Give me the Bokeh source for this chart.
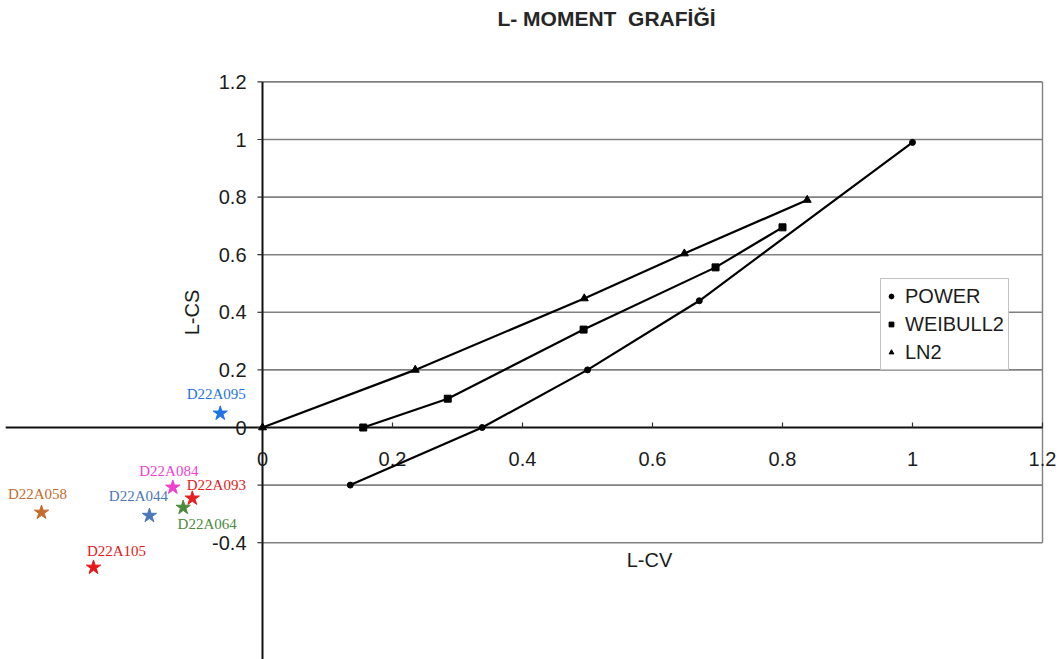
import math
from bokeh.plotting import figure
from bokeh.models import Range1d, Legend, LegendItem, Label, ColumnDataSource
from bokeh.core.properties import value
from bokeh.embed import file_html
from bokeh.resources import INLINE

# ---- data ----
x_ticks = [0, 0.2, 0.4, 0.6, 0.8, 1.0, 1.2]
x_tick_labels = ["0", "0.2", "0.4", "0.6", "0.8", "1", "1.2"]
y_ticks = [-0.4, -0.2, 0, 0.2, 0.4, 0.6, 0.8, 1.0, 1.2]
y_tick_labels = ["-0.4", "", "0", "0.2", "0.4", "0.6", "0.8", "1", "1.2"]

power_x = [0.135, 0.338, 0.5, 0.672, 1.0]
power_y = [-0.2, 0.0, 0.2, 0.44, 0.99]
weibull_x = [0.155, 0.285, 0.494, 0.697, 0.8]
weibull_y = [0.0, 0.1, 0.34, 0.556, 0.695]
ln2_x = [0.0, 0.235, 0.495, 0.649, 0.838]
ln2_y = [0.0, 0.2, 0.448, 0.604, 0.79]

stations = ["D22A095", "D22A084", "D22A093", "D22A064", "D22A044", "D22A058", "D22A105"]
station_lcv = [-0.065, -0.138, -0.108, -0.122, -0.174, -0.34, -0.26]
station_lcs = [0.049, -0.208, -0.246, -0.278, -0.306, -0.295, -0.486]

# ---- styles ----
station_colors = ["#1f74e6", "#ee3fd0", "#e62020", "#4d8b3c", "#4a78b8", "#c46a2c", "#e41818"]
label_dx = [-4, -4, 24, 24, -11, -4, 23]
label_dy = [-19, -16, -13, 16, -20, -18, -16]

PX_X = 650.0
PX_Y = 288.0
W, H = 1060, 659
X0_PX, Y0_PX = 262, 427

p = figure(width=W, height=H,
           x_range=Range1d(-X0_PX / PX_X, (W - X0_PX) / PX_X),
           y_range=Range1d(-(H - Y0_PX) / PX_Y, Y0_PX / PX_Y),
           output_backend="svg", toolbar_location=None,
           x_axis_location=None, y_axis_location=None,
           min_border=0)
p.outline_line_color = None
p.background_fill_color = "white"
p.border_fill_color = "white"
p.grid.visible = False

FONT = "Liberation Sans"
TXT = "#1c1c1c"

xmin, xmax = x_ticks[0], x_ticks[-1]
ymin, ymax = y_ticks[0], y_ticks[-1]

# horizontal grid lines (inside the box only)
grid_y = [v for v in y_ticks if v != 0]
p.segment(x0=[xmin] * len(grid_y), y0=grid_y, x1=[xmax] * len(grid_y), y1=grid_y,
          line_color="#808080", line_width=1.6)
# right border
p.segment(x0=[xmax], y0=[ymin], x1=[xmax], y1=[ymax], line_color="#808080", line_width=1.4)

# axis lines
xr = p.x_range
yr = p.y_range
p.segment(x0=[xr.start + 0.008], y0=[0], x1=[xmax], y1=[0], line_color="#111111", line_width=2)
p.segment(x0=[0], y0=[yr.start], x1=[0], y1=[ymax], line_color="#111111", line_width=2)

# tick marks
tick_up = 5 / PX_Y
p.segment(x0=x_ticks[1:], y0=[0] * (len(x_ticks) - 1), x1=x_ticks[1:], y1=[tick_up] * (len(x_ticks) - 1),
          line_color="#333333", line_width=1.2)
tick_left = 5 / PX_X
p.segment(x0=[-tick_left] * len(y_ticks), y0=y_ticks, x1=[0] * len(y_ticks), y1=y_ticks,
          line_color="#333333", line_width=1.2)

# tick labels
p.text(x=x_ticks, y=[0] * len(x_ticks), text=x_tick_labels, y_offset=31,
       text_align="center", text_baseline="middle", text_font=value(FONT),
       text_font_size="20px", text_color=TXT)
p.text(x=[0] * len(y_ticks), y=y_ticks, text=y_tick_labels, x_offset=-16,
       text_align="right", text_baseline="middle", text_font=value(FONT),
       text_font_size="20px", text_color=TXT)

# curves
p.line(power_x, power_y, line_color="black", line_width=2.2)
p.line(weibull_x, weibull_y, line_color="black", line_width=2.2)
p.line(ln2_x, ln2_y, line_color="black", line_width=2.2)
r_pow = p.scatter(power_x, power_y, marker="circle", size=6, color="black")
r_wei = p.scatter(weibull_x, weibull_y, marker="square", size=7, color="black")
r_ln = p.scatter(ln2_x, ln2_y, marker="triangle", size=8, color="black")

# stations
src = ColumnDataSource(dict(x=station_lcv, y=station_lcs, name=stations, color=station_colors,
                            dx=label_dx, dy=label_dy))
p.scatter("x", "y", source=src, marker="star", size=15, fill_color="color", line_color="color")
p.text("x", "y", text="name", source=src, x_offset="dx", y_offset="dy",
       text_color="color", text_font=value("Liberation Serif"), text_font_size="15px",
       text_align="center", text_baseline="middle")

# titles
p.add_layout(Label(x=(606 - X0_PX) / PX_X, y=(Y0_PX - 18) / PX_Y, text="L-\u00a0MOMENT\u00a0\u00a0GRAFİĞİ",
                   text_font=FONT, text_font_size="21px", text_font_style="bold", text_color="#262626",
                   text_align="center", text_baseline="middle"))
p.add_layout(Label(x=(649 - X0_PX) / PX_X, y=(Y0_PX - 559) / PX_Y, text="L-CV",
                   text_font=FONT, text_font_size="20px", text_color=TXT,
                   text_align="center", text_baseline="middle"))
p.add_layout(Label(x=(191 - X0_PX) / PX_X, y=(Y0_PX - 312) / PX_Y, text="L-CS", angle=math.pi / 2,
                   text_font=FONT, text_font_size="20px", text_color=TXT,
                   text_align="center", text_baseline="middle"))

legend = Legend(items=[LegendItem(label="POWER", renderers=[r_pow]),
                       LegendItem(label="WEIBULL2", renderers=[r_wei]),
                       LegendItem(label="LN2", renderers=[r_ln])],
                location=(880, H - 370), orientation="vertical",
                label_text_font=FONT, label_text_font_size="20px", label_text_color=TXT,
                glyph_width=12, glyph_height=26, label_height=26, label_standoff=8,
                spacing=2, padding=4, margin=0,
                border_line_color="#888888", border_line_width=1.4,
                background_fill_color="white", background_fill_alpha=1.0)
p.add_layout(legend)

open("out.html", "w").write(file_html(p, INLINE))
